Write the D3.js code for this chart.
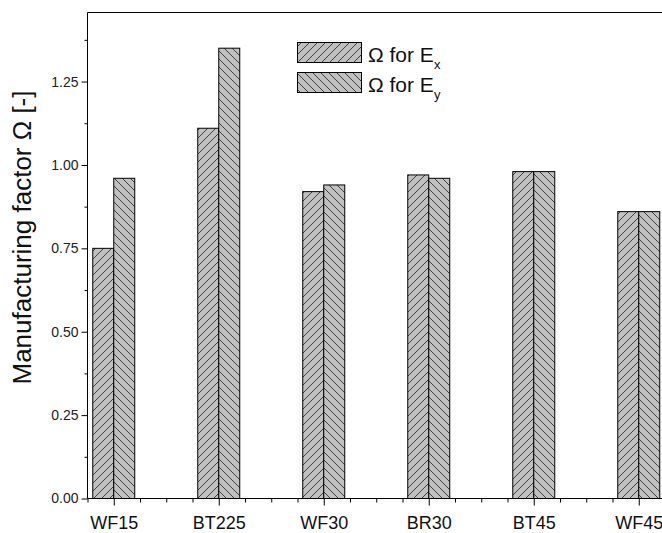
<!DOCTYPE html>
<html>
<head>
<meta charset="utf-8">
<script src="https://cdn.jsdelivr.net/npm/d3@7"></script>
<style>
  html, body { margin: 0; padding: 0; background: #fff; overflow: hidden; }
  text { font-family: "Liberation Sans", Arial, sans-serif; }
</style>
</head>
<body>
<div id="chart"></div>
<script>
// categories and the two series
const categories = ["WF15", "BT225", "WF30", "BR30", "BT45", "WF45"];
const omegaEx = [0.75, 1.11, 0.92, 0.97, 0.98, 0.86];
const omegaEy = [0.96, 1.35, 0.94, 0.96, 0.98, 0.86];
const yTicks = [0, 0.25, 0.5, 0.75, 1.0, 1.25];

const W = 662, H = 533;
const svg = d3.select("#chart").append("svg")
    .attr("width", W).attr("height", H);

// plot frame (right edge runs off the picture)
const plotLeft = 87.5, plotTop = 12.5, plotBottom = 498.5;
const x = d3.scaleLinear().domain([0.75, 6.25]).range([plotLeft, plotLeft + 5.5 * 105]);
const y = d3.scaleLinear().domain([0, 1.457]).range([plotBottom, plotTop]);

// hatch patterns
const defs = svg.append("defs");
function hatch(id, dir) {
  const s = 8;
  const p = defs.append("pattern")
      .attr("id", id)
      .attr("patternUnits", "userSpaceOnUse")
      .attr("width", s).attr("height", s);
  p.append("rect").attr("width", s).attr("height", s).attr("fill", "#c0c0c0");
  const d = dir > 0
    ? `M0,${s} L${s},0 M-2,2 L2,-2 M${s - 2},${s + 2} L${s + 2},${s - 2}`
    : `M0,0 L${s},${s} M-2,${s - 2} L2,${s + 2} M${s - 2},-2 L${s + 2},2`;
  p.append("path").attr("d", d)
      .attr("stroke", "#404040").attr("stroke-width", 1);
}
hatch("hx", 1);
hatch("hy", -1);

const barW = 0.2;
const g = svg.append("g");

g.selectAll(".bx").data(omegaEx).enter().append("rect")
    .attr("class", "bx")
    .attr("x", (d, i) => x(i + 1 - barW))
    .attr("y", d => y(d))
    .attr("width", x(1) - x(1 - barW))
    .attr("height", d => y(0) - y(d))
    .attr("fill", "url(#hx)")
    .attr("stroke", "#000").attr("stroke-width", 1);

g.selectAll(".by").data(omegaEy).enter().append("rect")
    .attr("class", "by")
    .attr("x", (d, i) => x(i + 1))
    .attr("y", d => y(d))
    .attr("width", x(1 + barW) - x(1))
    .attr("height", d => y(0) - y(d))
    .attr("fill", "url(#hy)")
    .attr("stroke", "#000").attr("stroke-width", 1);

// frame top line
svg.append("line")
    .attr("x1", plotLeft).attr("x2", W)
    .attr("y1", plotTop).attr("y2", plotTop)
    .attr("stroke", "#000");

// Y axis
const yAxis = svg.append("g")
    .attr("transform", `translate(${plotLeft},0)`)
    .call(d3.axisLeft(y).tickValues(yTicks).tickFormat(d3.format(".2f")).tickSize(6).tickPadding(3));
yAxis.select(".domain").attr("d", `M0,${plotTop}V${plotBottom}`);
yAxis.selectAll("text").attr("font-size", 14).attr("fill", "#222")
    .style("font-family", "Liberation Sans, Arial, sans-serif");
svg.append("g")
    .attr("transform", `translate(${plotLeft},0)`)
    .call(d3.axisLeft(y).tickValues(d3.range(0.125, 1.45, 0.25)).tickSize(3).tickFormat(""))
    .select(".domain").remove();

// X axis
const xAxis = svg.append("g")
    .attr("transform", `translate(0,${plotBottom})`)
    .call(d3.axisBottom(x).tickValues(d3.range(1, 7)).tickFormat((d, i) => categories[i]).tickSize(7).tickPadding(11));
xAxis.select(".domain").attr("d", `M${plotLeft},0H${W}`);
xAxis.selectAll("text").attr("font-size", 18).attr("fill", "#111")
    .style("font-family", "Liberation Sans, Arial, sans-serif");
const minorX = d3.range(0.75, 6.3, 0.25).filter(v => Math.abs(v - Math.round(v)) > 0.01);
svg.append("g")
    .attr("transform", `translate(0,${plotBottom})`)
    .call(d3.axisBottom(x).tickValues(minorX).tickSize(4).tickFormat(""))
    .select(".domain").remove();

// Y label
svg.append("text")
    .attr("transform", `translate(31,${(plotTop + plotBottom) / 2 - 18}) rotate(-90)`)
    .attr("text-anchor", "middle")
    .attr("font-size", 26)
    .attr("fill", "#111")
    .text("Manufacturing factor \u03A9 [-]");

// legend
const legend = [
  { pat: "hx", sub: "x" },
  { pat: "hy", sub: "y" }
];
const lg = svg.append("g");
legend.forEach((l, i) => {
  const ly = 42.5 + i * 30;
  lg.append("rect")
      .attr("x", 297.5).attr("y", ly)
      .attr("width", 64).attr("height", 20)
      .attr("fill", `url(#${l.pat})`)
      .attr("stroke", "#000");
  const t = lg.append("text")
      .attr("x", 368).attr("y", ly + 19)
      .attr("font-size", 21)
      .attr("fill", "#111");
  t.append("tspan").text("\u03A9 for E");
  t.append("tspan").attr("font-size", 13).attr("dy", 7).text(l.sub);
});
</script>
</body>
</html>
